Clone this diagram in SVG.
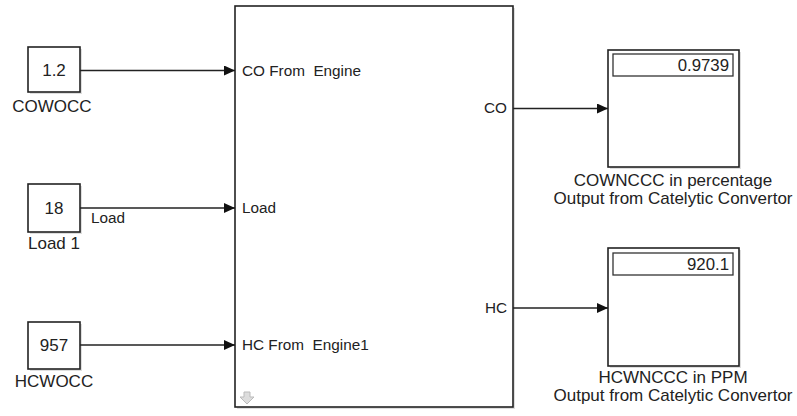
<svg xmlns="http://www.w3.org/2000/svg" width="797" height="416" viewBox="0 0 797 416">
<style>
.blk{fill:#fff;stroke:#222;stroke-width:1.6}
.shd{fill:#dedede}
.lbl{font-family:"Liberation Sans",Arial,sans-serif;font-size:17px;fill:#222}
.port{font-family:"Liberation Sans",Arial,sans-serif;font-size:15.3px;fill:#222;white-space:pre}
.val{font-family:"Liberation Sans",Arial,sans-serif;font-size:16.8px;fill:#222}
.sig{stroke:#222;stroke-width:1.3;fill:none;marker-end:url(#ah)}
.disp{fill:#fff;stroke:#333;stroke-width:1.3}
</style>
<defs>
<marker id="ah" markerWidth="12" markerHeight="10" refX="11" refY="5" orient="auto" markerUnits="userSpaceOnUse">
<path d="M0,0 L11,5 L0,10 Z" fill="#111"/>
</marker>
</defs>
<rect width="797" height="416" fill="#fff"/>

<g id="main">
<rect class="shd" x="237" y="8" width="278" height="401"/>
<rect class="blk" x="235" y="6" width="278" height="401"/>
<text class="port" x="242" y="76">CO From  Engine</text>
<text class="port" x="242" y="213">Load</text>
<text class="port" x="242" y="350">HC From  Engine1</text>
<text class="port" x="507" y="113" text-anchor="end">CO</text>
<text class="port" x="507" y="313" text-anchor="end">HC</text>
<path d="M244,392 h6 v5 h4 l-7,7 l-7,-7 h4 z" fill="#ddd" stroke="#bbb" stroke-width="1"/>
</g>

<g id="cowocc">
<rect class="shd" x="30" y="49" width="52" height="45"/>
<rect class="blk" x="28" y="47" width="52" height="45"/>
<text class="lbl" x="54" y="76" text-anchor="middle">1.2</text>
<text class="lbl" x="52" y="112" text-anchor="middle">COWOCC</text>
</g>

<g id="load1">
<rect class="shd" x="30" y="186" width="52" height="48"/>
<rect class="blk" x="28" y="184" width="52" height="48"/>
<text class="lbl" x="54" y="214" text-anchor="middle">18</text>
<text class="lbl" x="28" y="249">Load 1</text>
</g>

<g id="hcwocc">
<rect class="shd" x="30" y="324" width="52" height="47"/>
<rect class="blk" x="28" y="322" width="52" height="47"/>
<text class="lbl" x="54" y="351" text-anchor="middle">957</text>
<text class="lbl" x="54" y="387" text-anchor="middle">HCWOCC</text>
</g>

<g id="scope_co">
<rect class="shd" x="610" y="52" width="131" height="117"/>
<rect class="blk" x="608" y="50" width="131" height="117"/>
<rect class="disp" x="613" y="54" width="120" height="22"/>
<text class="val" x="729" y="71" text-anchor="end">0.9739</text>
<text class="lbl" x="673" y="186" text-anchor="middle">COWNCCC in percentage</text>
<text class="lbl" x="673" y="204" text-anchor="middle">Output from Catelytic Convertor</text>
</g>

<g id="scope_hc">
<rect class="shd" x="610" y="250" width="131" height="118"/>
<rect class="blk" x="608" y="248" width="131" height="118"/>
<rect class="disp" x="613" y="253" width="120" height="22"/>
<text class="val" x="729" y="270" text-anchor="end">920.1</text>
<text class="lbl" x="673" y="383" text-anchor="middle">HCWNCCC in PPM</text>
<text class="lbl" x="673" y="401" text-anchor="middle">Output from Catelytic Convertor</text>
</g>

<g id="connectors">
<path class="sig" d="M80,70.5 H235"/>
<path class="sig" d="M80,208 H235"/>
<text class="port" x="91" y="223">Load</text>
<path class="sig" d="M80,345 H235"/>
<path class="sig" d="M513,108.5 H608"/>
<path class="sig" d="M513,308 H608"/>
</g>
</svg>
